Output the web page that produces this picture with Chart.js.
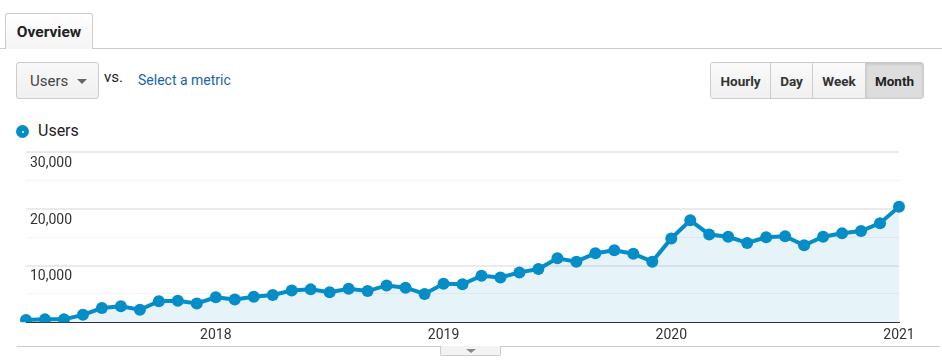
<!DOCTYPE html>
<html>
<head>
<meta charset="utf-8">
<script src="https://cdn.jsdelivr.net/npm/chart.js@4.4.1/dist/chart.umd.min.js"></script>
<style>
  body { margin: 0; background: #fff; font-family: Roboto, Arial, sans-serif; width: 942px; height: 363px; overflow: hidden; position: relative; }
  .topline { position: absolute; left: 0; top: 48px; width: 942px; height: 1px; background: #ccc; }
  .tab { position: absolute; left: 5px; top: 13px; width: 86px; height: 35px; border: 1px solid #ccc; border-bottom: none; border-radius: 3px 3px 0 0;
         background: linear-gradient(#fff, #f4f4f4); font-weight: bold; font-size: 15.5px; color: #222; text-align: center; line-height: 36px; z-index: 2; }
  .dropdown { position: absolute; left: 16px; top: 62px; width: 81px; height: 35px; border: 1px solid #ccc; border-radius: 3px;
              background: linear-gradient(#f8f8f8, #f0f0f0); font-size: 15px; color: #444; line-height: 36px; }
  .dropdown span { position: absolute; left: 13px; }
  .caret { position: absolute; left: 60px; top: 16px; width: 0; height: 0; border-left: 5px solid transparent; border-right: 5px solid transparent; border-top: 5px solid #666; }
  .vs { position: absolute; left: 104px; top: 68px; font-size: 15px; color: #222; }
  .metric { position: absolute; left: 138px; top: 72px; font-size: 14px; color: #1a64a8; }
  .btns { position: absolute; left: 710px; top: 62px; height: 35px; border: 1px solid #ccc; border-radius: 3px; display: flex; overflow: hidden; }
  .btns div { font-weight: bold; font-size: 13.5px; color: #333; line-height: 36px; text-align: center; background: linear-gradient(#fafafa, #f0f0f0); border-left: 1px solid #ccc; }
  .btns div:first-child { border-left: none; }
  .btns .on { background: #ddd; box-shadow: inset 0 1px 3px rgba(0,0,0,0.15); color: #222; }
  .legend { position: absolute; left: 16px; top: 121px; font-size: 16px; color: #222; line-height: 20px; }
  .dot { position: absolute; left: 0; top: 4px; width: 13px; height: 13px; border-radius: 50%; background: #058dc7; }
  .dot::after { content: ""; position: absolute; left: 5.5px; top: 5.5px; width: 2px; height: 2px; background: #fff; border-radius: 50%; }
  .legend span { position: absolute; left: 22px; top: 0; }
  #wrap { position: absolute; left: 0; top: 140px; width: 942px; height: 209px; }
  .bottomline { position: absolute; left: 17px; top: 346px; width: 923px; height: 1px; background: #ccc; }
  .handle { position: absolute; left: 440px; top: 346px; width: 59px; height: 9px; border: 1px solid #ccc; border-top: none; background: #f3f3f3; border-radius: 0 0 2px 2px; }
  .handle::after { content: ""; position: absolute; left: 25px; top: 3px; border-left: 5px solid transparent; border-right: 5px solid transparent; border-top: 4px solid #888; }
</style>
</head>
<body>
<div class="topline"></div>
<div class="tab">Overview</div>
<div class="dropdown"><span>Users</span><div class="caret"></div></div>
<div class="vs">vs.</div>
<div class="metric">Select a metric</div>
<div class="btns">
  <div style="width:59px">Hourly</div>
  <div style="width:41px">Day</div>
  <div style="width:52px">Week</div>
  <div class="on" style="width:57px">Month</div>
</div>
<div class="legend"><div class="dot"></div><span>Users</span></div>
<div id="wrap"><canvas id="chart"></canvas></div>
<div class="bottomline"></div>
<div class="handle"></div>

<script>
// months from Mar 2017 to Jan 2021
var months = [
  '2017-03', '2017-04', '2017-05', '2017-06', '2017-07', '2017-08', '2017-09', '2017-10', '2017-11', '2017-12',
  '2018-01', '2018-02', '2018-03', '2018-04', '2018-05', '2018-06', '2018-07', '2018-08', '2018-09', '2018-10', '2018-11', '2018-12',
  '2019-01', '2019-02', '2019-03', '2019-04', '2019-05', '2019-06', '2019-07', '2019-08', '2019-09', '2019-10', '2019-11', '2019-12',
  '2020-01', '2020-02', '2020-03', '2020-04', '2020-05', '2020-06', '2020-07', '2020-08', '2020-09', '2020-10', '2020-11', '2020-12',
  '2021-01'
];

var users = [
  400, 500, 500, 1300, 2500, 2800, 2200, 3700, 3800, 3300,
  4400, 4000, 4500, 4800, 5600, 5800, 5300, 5900, 5500, 6500, 6100, 5000,
  6800, 6700, 8200, 7900, 8800, 9400, 11300, 10700, 12200, 12700, 12100, 10700,
  14800, 18000, 15500, 15100, 14000, 15000, 15200, 13600, 15100, 15700, 16100, 17500,
  20400
];

var yTicks = [10000, 20000, 30000];

var blue = '#058dc7';

var ctx = document.getElementById('chart').getContext('2d');
var chart = new Chart(ctx, {
  type: 'line',
  data: {
    labels: months,
    datasets: [{
      label: 'Users',
      data: users,
      borderColor: blue,
      backgroundColor: 'rgba(5,141,199,0.1)',
      borderWidth: 4,
      pointRadius: 6,
      pointBackgroundColor: blue,
      pointBorderColor: blue,
      pointBorderWidth: 0,
      fill: 'origin',
      tension: 0
    }]
  },
  options: {
    responsive: true,
    maintainAspectRatio: false,
    animation: false,
    layout: { padding: { top: 11, left: 18, right: 43, bottom: 0 } },
    plugins: { legend: { display: false }, tooltip: { enabled: false } },
    scales: {
      x: {
        grid: { display: false, drawTicks: false },
        border: { display: true, color: '#333', width: 1 },
        ticks: {
          autoSkip: false,
          maxRotation: 0,
          padding: 5,
          color: '#333',
          font: { family: 'Roboto, Arial, sans-serif', size: 14 },
          callback: function (value, index) {
            var m = months[index];
            return m.slice(5) === '01' ? m.slice(0, 4) : '';
          }
        }
      },
      y: {
        min: 0,
        max: 30000,
        border: { display: false },
        grid: {
          drawTicks: false,
          color: function (c) {
            return c.tick && yTicks.indexOf(c.tick.value) >= 0 ? '#ebebeb' : '#f3f3f3';
          },
          lineWidth: function (c) {
            return c.tick && yTicks.indexOf(c.tick.value) >= 0 ? 2 : 1;
          }
        },
        ticks: {
          stepSize: 5000,
          mirror: true,
          padding: 4,
          labelOffset: 11,
          color: '#333',
          font: { family: 'Roboto, Arial, sans-serif', size: 14 },
          callback: function (value) {
            return yTicks.indexOf(value) >= 0 ? value.toLocaleString('en-US') : '';
          }
        }
      }
    }
  }
});
</script>
</body>
</html>
